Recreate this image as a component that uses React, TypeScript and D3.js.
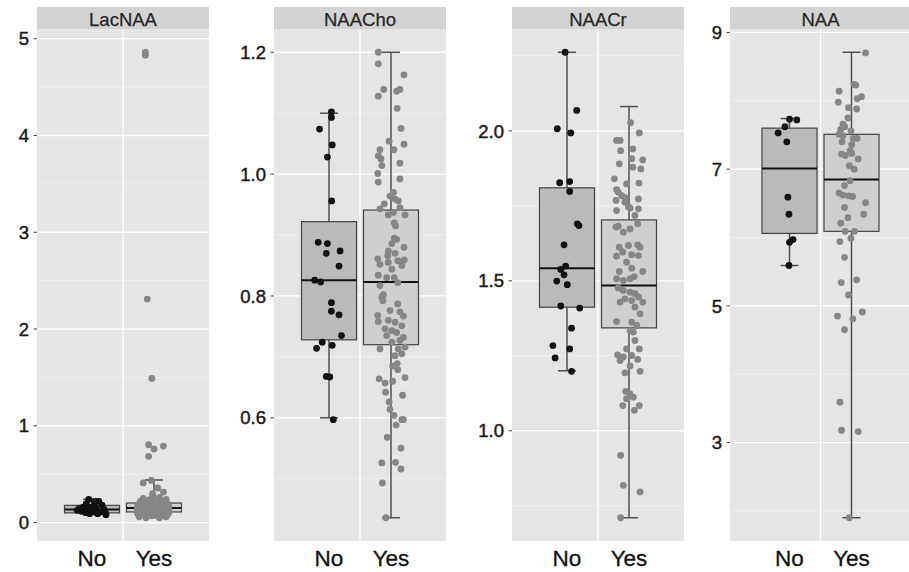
import { useEffect, useRef } from "react";
import * as d3 from "d3";

const WIDTH = 909;
const HEIGHT = 572;
const PANEL_TOP = 29;
const PANEL_BOTTOM = 541;
const STRIP_TOP = 7;

const groups = ["No", "Yes"];
const panelNames = ["LacNAA", "NAACho", "NAACr", "NAA"];
const panelLeft = [37, 274, 512, 730];
const panelWidth = [172, 172, 172, 181];

// y ticks per facet
const lacNaaTicks = [0, 1, 2, 3, 4, 5];
const naaChoTicks = [0.6, 0.8, 1.0, 1.2];
const naaCrTicks = [1.0, 1.5, 2.0];
const naaTicks = [3, 5, 7, 9];

// box stats per group: [lower whisker, q1, median, q3, upper whisker]
const lacNaaBoxes = [
  [0.08, 0.1, 0.134, 0.178, 0.24],
  [0.05, 0.11, 0.151, 0.202, 0.44],
];
const naaChoBoxes = [
  [0.6, 0.728, 0.826, 0.922, 1.1],
  [0.436, 0.72, 0.823, 0.941, 1.2],
];
const naaCrBoxes = [
  [1.2, 1.412, 1.542, 1.81, 2.262],
  [0.71, 1.343, 1.484, 1.703, 2.081],
];
const naaBoxes = [
  [5.59, 6.06, 7.01, 7.6, 7.74],
  [1.9, 6.09, 6.85, 7.51, 8.71],
];

// observations: [value, jitter]  (jitter in box half-widths)
const lacNaaNo = [
  [0.24, -0.12], [0.22, 0.09], [0.22, 0.25], [0.195, -0.21], [0.18, 0.37], [0.16, -0.33],
  [0.16, -0.03], [0.144, -0.48], [0.144, 0.15], [0.137, -0.15], [0.137, 0.45], [0.116, -0.39],
  [0.116, 0.03], [0.11, 0.33], [0.103, -0.24], [0.092, 0.21], [0.082, 0.52], [0.092, -0.09],
  [0.126, -0.55], [0.178, 0.09], [0.103, 0.49], [0.144, -0.27],
];
const lacNaaYes = [
  [0.05, -0.3], [0.05, 0.2], [0.06, -0.55], [0.06, 0.45], [0.07, -0.1], [0.07, 0.35],
  [0.08, -0.45], [0.08, 0.1], [0.08, 0.5], [0.09, -0.25], [0.09, 0.3], [0.09, -0.6],
  [0.1, 0], [0.1, 0.42], [0.1, -0.5], [0.1, 0.2], [0.105, -0.15], [0.105, 0.55],
  [0.108, -0.62], [0.108, 0.05], [0.115, -0.35], [0.115, 0.3], [0.12, 0.5], [0.12, -0.58],
  [0.12, 0.1], [0.125, -0.2], [0.125, 0.4], [0.13, -0.45], [0.13, 0], [0.13, 0.55],
  [0.135, -0.62], [0.135, 0.25], [0.14, -0.3], [0.14, 0.48], [0.14, 0.05], [0.145, -0.5],
  [0.145, 0.35], [0.148, -0.1], [0.15, 0.5], [0.15, -0.4], [0.155, 0.15], [0.155, -0.6],
  [0.16, 0.45], [0.16, -0.2], [0.165, 0], [0.165, 0.55], [0.17, -0.5], [0.17, 0.3],
  [0.175, -0.05], [0.175, 0.5], [0.18, -0.35], [0.18, 0.2], [0.185, -0.6], [0.185, 0.4],
  [0.19, 0.05], [0.19, -0.25], [0.195, 0.5], [0.195, -0.45], [0.2, 0.25], [0.2, -0.1],
  [0.205, 0.45], [0.21, -0.3], [0.215, 0.1], [0.22, -0.5], [0.22, 0.35], [0.23, 0],
  [0.235, -0.2], [0.24, 0.45], [0.25, -0.4], [0.26, 0.2], [0.28, -0.05], [0.3, -0.05],
  [0.315, 0.35], [0.357, 0.14], [0.41, -0.4], [0.435, -0.1], [0.685, -0.2], [0.76, 0],
  [0.79, 0.35], [0.805, -0.2], [1.49, -0.08], [2.31, -0.25], [4.83, -0.32], [4.86, -0.32],
];

const naaChoNo = [
  [1.102, 0.09], [1.093, 0.09], [1.074, -0.35], [1.048, 0.12], [1.028, -0.06], [0.956, 0.1],
  [0.888, -0.4], [0.886, -0.06], [0.87, -0.1], [0.874, 0.41], [0.849, 0.37], [0.826, -0.53],
  [0.823, -0.31], [0.789, 0.09], [0.775, 0.09], [0.769, 0.37], [0.735, 0.46], [0.724, -0.25],
  [0.714, -0.46], [0.719, 0.12], [0.668, -0.1], [0.667, 0.03], [0.597, 0.16],
];
const naaChoYes = [
  [1.2, -0.47], [1.181, -0.47], [1.163, 0.48], [1.139, -0.27], [1.128, -0.47], [1.136, 0.21],
  [1.139, 0.33], [1.108, 0.23], [1.075, 0.37], [1.054, -0.07], [1.049, 0.48], [1.04, -0.41],
  [1.04, 0.11], [1.03, -0.47], [1.025, -0.37], [1.014, -0.34], [1.018, 0.33], [1.001, -0.49],
  [0.987, -0.47], [0.992, 0.33], [0.97, 0.09], [0.964, -0.04], [0.959, 0.15], [0.956, 0.27],
  [0.951, -0.25], [0.943, -0.41], [0.945, 0.33], [0.933, 0.52], [0.933, -0.1], [0.937, 0.09],
  [0.92, 0.12], [0.915, 0.17], [0.895, 0.12], [0.893, 0.21], [0.886, 0.03], [0.88, 0.48],
  [0.874, -0.1], [0.866, -0.12], [0.861, -0.49], [0.87, 0.15], [0.852, -0.41], [0.855, -0.1],
  [0.858, 0.25], [0.859, 0.49], [0.85, 0.4], [0.844, 0.03], [0.834, -0.47], [0.83, -0.16],
  [0.83, 0.12], [0.822, 0.25], [0.817, -0.41], [0.802, -0.28], [0.798, -0.34], [0.792, -0.3],
  [0.787, 0.25], [0.776, -0.04], [0.774, 0.33], [0.768, -0.49], [0.767, 0.46], [0.76, -0.1],
  [0.758, -0.47], [0.757, 0.15], [0.751, 0.4], [0.746, -0.22], [0.743, 0.03], [0.74, 0.21],
  [0.735, -0.16], [0.732, 0.46], [0.727, 0.33], [0.724, 0.03], [0.713, -0.41], [0.713, 0.27],
  [0.716, 0.52], [0.702, 0.15], [0.705, 0.4], [0.689, 0.23], [0.685, 0.06], [0.679, 0.25],
  [0.664, -0.44], [0.666, 0.52], [0.657, -0.22], [0.66, 0.06], [0.642, -0.2], [0.637, 0.43],
  [0.626, -0.07], [0.614, -0.04], [0.604, 0.11], [0.597, 0.4], [0.588, 0.19], [0.597, 0.46],
  [0.568, -0.14], [0.55, 0.37], [0.526, -0.34], [0.527, 0.17], [0.516, 0.37], [0.493, -0.32],
  [0.436, -0.19],
];

const naaCrNo = [
  [2.262, -0.07], [2.068, 0.36], [2.007, -0.36], [1.993, 0.14], [1.827, -0.27], [1.831, 0.1],
  [1.798, 0.1], [1.69, 0.38], [1.684, 0.44], [1.62, -0.11], [1.549, -0.05], [1.538, -0.23],
  [1.52, -0.11], [1.499, -0.38], [1.487, 0.01], [1.416, -0.23], [1.409, 0.47], [1.342, 0.17],
  [1.284, -0.52], [1.273, 0.1], [1.243, -0.44], [1.198, 0.17],
];
const naaCrYes = [
  [2.027, 0.06], [1.993, 0.38], [1.968, -0.46], [1.968, -0.33], [1.934, -0.31], [1.94, 0.14],
  [1.903, 0.51], [1.907, 0.1], [1.89, -0.36], [1.879, 0.14], [1.873, 0.44], [1.84, -0.54],
  [1.826, 0.37], [1.823, -0.09], [1.804, -0.46], [1.796, -0.4], [1.784, -0.27], [1.777, -0.15],
  [1.773, 0.35], [1.768, -0.48], [1.762, -0.15], [1.746, -0.02], [1.742, 0.04], [1.74, 0.35],
  [1.734, -0.46], [1.718, 0.22], [1.679, -0.48], [1.682, -0.4], [1.673, 0.04], [1.69, 0.32],
  [1.662, -0.21], [1.612, -0.36], [1.618, -0.02], [1.62, 0.32], [1.612, 0.41], [1.596, -0.23],
  [1.587, 0.1], [1.582, -0.46], [1.584, 0.35], [1.562, -0.09], [1.542, 0.1], [1.531, 0.51],
  [1.531, -0.36], [1.514, 0.19], [1.507, 0.04], [1.501, -0.21], [1.507, -0.46], [1.476, -0.4],
  [1.468, -0.21], [1.462, 0.04], [1.457, 0.22], [1.446, 0.35], [1.429, -0.33], [1.429, 0.51],
  [1.44, -0.15], [1.434, 0.1], [1.412, 0.22], [1.39, 0.41], [1.364, -0.46], [1.362, 0.1],
  [1.351, 0.29], [1.334, 0.04], [1.329, 0.16], [1.301, 0.22], [1.273, -0.09], [1.273, 0.38],
  [1.253, -0.42], [1.246, -0.21], [1.251, 0.1], [1.238, 0.32], [1.234, -0.33], [1.216, 0.04],
  [1.193, -0.15], [1.198, 0.41], [1.131, -0.12], [1.123, 0.04], [1.112, 0.16], [1.107, -0.09],
  [1.084, -0.23], [1.084, 0.38], [1.068, 0.2], [0.918, -0.31], [0.818, -0.21], [0.796, 0.41],
  [0.71, -0.31],
];

const naaNo = [
  [7.73, 0], [7.72, 0.27], [7.62, -0.17], [7.53, -0.42], [7.4, -0.1], [6.59, -0.06],
  [6.34, -0.02], [5.97, 0.13], [5.93, 0], [5.59, -0.02],
];
const naaYes = [
  [8.7, 0.52], [8.24, 0.1], [8.23, 0.16], [8.14, -0.46], [8.06, 0.37], [8.03, 0.21],
  [7.98, -0.49], [7.9, -0.11], [7.88, 0.19], [7.75, -0.13], [7.66, -0.32], [7.62, -0.25],
  [7.58, -0.4], [7.56, -0.02], [7.51, -0.46], [7.49, -0.32], [7.45, 0.07], [7.45, 0.21],
  [7.4, -0.35], [7.36, 0.01], [7.27, -0.05], [7.23, 0.01], [7.22, -0.37], [7.2, -0.23],
  [7.15, 0.25], [7.05, -0.08], [7.0, 0.1], [6.83, -0.05], [6.76, -0.26], [6.65, -0.46],
  [6.62, -0.32], [6.61, -0.11], [6.6, 0.04], [6.51, 0.52], [6.44, -0.26], [6.34, 0.45],
  [6.29, -0.13], [6.21, -0.4], [6.09, -0.23], [6.09, 0.11], [5.99, -0.02], [5.94, -0.43],
  [5.71, -0.26], [5.34, -0.38], [5.38, 0.19], [5.16, -0.11], [4.85, -0.52], [4.91, 0.4],
  [4.81, 0.05], [4.65, -0.26], [3.59, -0.43], [3.18, -0.37], [3.16, 0.25], [1.9, -0.08],
];

const panels = [
  { name: panelNames[0], ticks: lacNaaTicks, fmt: d3.format("d"), boxes: lacNaaBoxes, points: [lacNaaNo, lacNaaYes] },
  { name: panelNames[1], ticks: naaChoTicks, fmt: d3.format(".1f"), boxes: naaChoBoxes, points: [naaChoNo, naaChoYes] },
  { name: panelNames[2], ticks: naaCrTicks, fmt: d3.format(".1f"), boxes: naaCrBoxes, points: [naaCrNo, naaCrYes] },
  { name: panelNames[3], ticks: naaTicks, fmt: d3.format("d"), boxes: naaBoxes, points: [naaNo, naaYes] },
];

const FONT = "'Liberation Sans', Arial, sans-serif";
const boxFill = ["#bababa", "#cfcfcf"];
const pointFill = ["#111111", "#868686"];

export default function App() {
  const svgRef = useRef(null);

  useEffect(() => {
    const svg = d3.select(svgRef.current).attr("width", WIDTH).attr("height", HEIGHT);
    svg.selectAll("*").remove();
    svg.append("rect").attr("width", WIDTH).attr("height", HEIGHT).attr("fill", "#ffffff");

    const boxWidth = 55;
    const halfW = 27;
    const capW = 18;

    panels.forEach((p, i) => {
      const x0 = panelLeft[i];
      const w = panelWidth[i];
      const cx = x0 + w / 2;

      // ggplot-like 5% expansion of the data range
      const values = p.points.flat().map((d) => d[0]).concat(p.boxes.flat());
      const [mn, mx] = d3.extent(values);
      const pad = (mx - mn) * 0.05;
      const y = d3.scaleLinear().domain([mn - pad, mx + pad]).range([PANEL_BOTTOM, PANEL_TOP]);
      const x = d3.scalePoint().domain(groups).range([cx - 31, cx + 31]);

      const g = svg.append("g");
      const clipId = "clip" + i;
      g.append("clipPath").attr("id", clipId)
        .append("rect").attr("x", x0).attr("y", PANEL_TOP).attr("width", w).attr("height", PANEL_BOTTOM - PANEL_TOP);

      // panel background
      g.append("rect")
        .attr("x", x0).attr("y", PANEL_TOP)
        .attr("width", w).attr("height", PANEL_BOTTOM - PANEL_TOP)
        .attr("fill", "#e5e5e5");

      // minor grid
      const step = p.ticks[1] - p.ticks[0];
      const minors = p.ticks.map((t) => t - step / 2)
        .concat([p.ticks[p.ticks.length - 1] + step / 2])
        .filter((m) => m > y.domain()[0] && m < y.domain()[1]);
      g.selectAll(".minor").data(minors).enter().append("line")
        .attr("x1", x0).attr("x2", x0 + w)
        .attr("y1", (d) => y(d)).attr("y2", (d) => y(d))
        .attr("stroke", "#f5f5f5").attr("stroke-width", 0.7);

      // major grid
      g.selectAll(".major").data(p.ticks).enter().append("line")
        .attr("x1", x0).attr("x2", x0 + w)
        .attr("y1", (d) => y(d)).attr("y2", (d) => y(d))
        .attr("stroke", "#ffffff").attr("stroke-width", 1.3);
      g.append("line")
        .attr("x1", cx).attr("x2", cx)
        .attr("y1", PANEL_TOP).attr("y2", PANEL_BOTTOM)
        .attr("stroke", "#ffffff").attr("stroke-width", 1.3);

      // y axis ticks + labels
      g.selectAll(".tick").data(p.ticks).enter().append("line")
        .attr("x1", x0 - 3.5).attr("x2", x0)
        .attr("y1", (d) => y(d)).attr("y2", (d) => y(d))
        .attr("stroke", "#444").attr("stroke-width", 1);
      g.selectAll(".ylab").data(p.ticks).enter().append("text")
        .attr("x", x0 - 8).attr("y", (d) => y(d))
        .attr("dy", "0.36em")
        .attr("text-anchor", "end")
        .attr("font-family", FONT).attr("font-size", 18.5)
        .attr("fill", "#1a1a1a")
        .attr("stroke", "#1a1a1a").attr("stroke-width", 0.45)
        .text((d) => p.fmt(d));

      // strip
      g.append("rect")
        .attr("x", x0).attr("y", STRIP_TOP)
        .attr("width", w).attr("height", PANEL_TOP - STRIP_TOP)
        .attr("fill", "#d3d3d3");
      g.append("text")
        .attr("x", cx).attr("y", 25.5)
        .attr("text-anchor", "middle")
        .attr("font-family", FONT).attr("font-size", 18.5)
        .attr("fill", "#262626")
        .attr("stroke", "#262626").attr("stroke-width", 0.25)
        .text(p.name);

      const plot = g.append("g").attr("clip-path", `url(#${clipId})`);

      groups.forEach((grp, gi) => {
        const [lo, q1, med, q3, hi] = p.boxes[gi];
        const bx = x(grp);

        // errorbar whiskers
        plot.append("line")
          .attr("x1", bx).attr("x2", bx).attr("y1", y(lo)).attr("y2", y(hi))
          .attr("stroke", "#505050").attr("stroke-width", 1.5);
        [lo, hi].forEach((v) => {
          plot.append("line")
            .attr("x1", bx - capW / 2).attr("x2", bx + capW / 2)
            .attr("y1", y(v)).attr("y2", y(v))
            .attr("stroke", "#505050").attr("stroke-width", 1.5);
        });

        // box
        plot.append("rect")
          .attr("x", bx - boxWidth / 2).attr("y", y(q3))
          .attr("width", boxWidth).attr("height", y(q1) - y(q3))
          .attr("fill", boxFill[gi])
          .attr("stroke", "#444").attr("stroke-width", 1.2);
        plot.append("line")
          .attr("x1", bx - boxWidth / 2).attr("x2", bx + boxWidth / 2)
          .attr("y1", y(med)).attr("y2", y(med))
          .attr("stroke", "#111").attr("stroke-width", 2);

        // jittered points
        plot.selectAll(".pt" + gi).data(p.points[gi]).enter().append("circle")
          .attr("cx", (d) => bx + d[1] * halfW)
          .attr("cy", (d) => y(d[0]))
          .attr("r", 3.4)
          .attr("fill", pointFill[gi]);
      });

      // x labels
      g.selectAll(".xlab").data(groups).enter().append("text")
        .attr("x", (d) => x(d)).attr("y", 566)
        .attr("text-anchor", "middle")
        .attr("font-family", FONT).attr("font-size", 22.5)
        .attr("fill", "#111")
        .attr("stroke", "#111").attr("stroke-width", 0.3)
        .text((d) => d);
    });

    return () => {
      svg.selectAll("*").remove();
    };
  }, []);

  return (
    <div style={{ position: "absolute", left: 0, top: 0 }}>
      <svg ref={svgRef} style={{ display: "block" }}></svg>
    </div>
  );
}
